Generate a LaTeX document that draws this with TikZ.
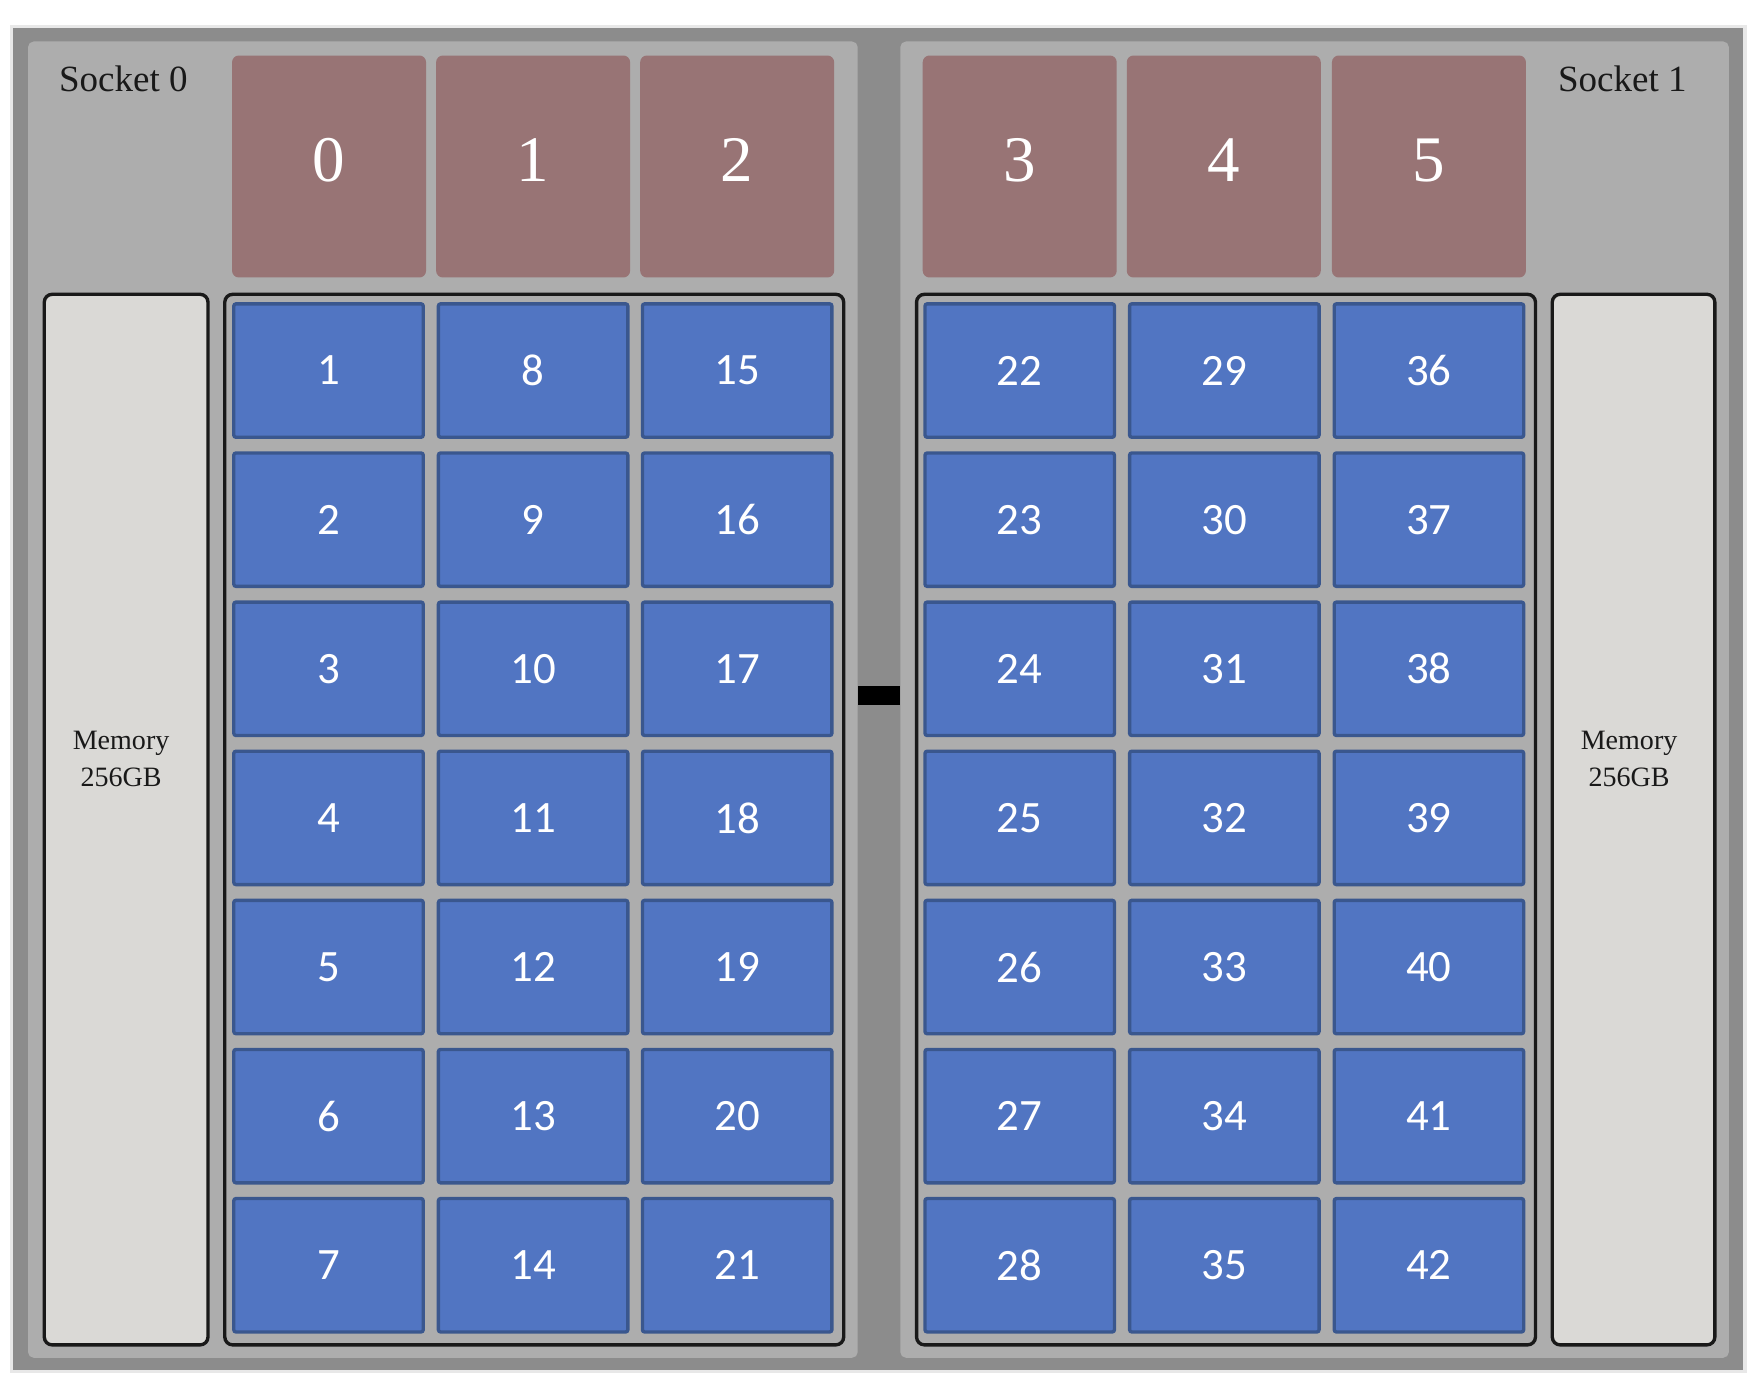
\documentclass[tikz,border=0pt]{standalone}
\usepackage{fontspec}
\setmainfont{Liberation Serif}
\newfontfamily\boxfont{Carlito}
\definecolor{framegray}{RGB}{140,140,140}
\definecolor{panelgray}{RGB}{173,173,173}
\definecolor{faintgray}{RGB}{232,232,232}
\definecolor{coremauve}{RGB}{152,116,117}
\definecolor{memfill}{RGB}{218,217,214}
\definecolor{cpublue}{RGB}{81,117,194}
\definecolor{cpuedge}{RGB}{58,87,142}
\definecolor{textblack}{RGB}{25,25,25}
\tikzset{
  panel/.style={fill=panelgray, rounded corners=5pt},
  corebox/.style={fill=coremauve, rounded corners=6pt, minimum width=173pt, minimum height=198pt, inner sep=0pt},
  corelabel/.style={text=white, inner sep=0pt, font=\fontsize{58}{58}\selectfont},
  cpubox/.style={fill=cpublue, draw=cpuedge, line width=3pt, rounded corners=2pt, minimum width=169pt, minimum height=119pt,
    inner sep=0pt, text=white, font=\boxfont\fontsize{40}{40}\selectfont},
  groupbox/.style={draw=black!90, line width=3pt, rounded corners=7pt, inner sep=0pt},
  membox/.style={groupbox, fill=memfill},
  memtext/.style={align=center, text=textblack, inner sep=0pt, font=\fontsize{25}{33}\selectfont},
  sockettext/.style={text=textblack, font=\fontsize{33}{33}\selectfont, inner sep=0pt},
}
\begin{document}
\begin{tikzpicture}[x=1pt,y=-1pt]
\useasboundingbox (0,0) rectangle (1568,1240);
\fill[white] (0,0) rectangle (1568,1240);
% outer frame
\fill[faintgray] (9,22) rectangle (1558,1225);
\fill[framegray] (12,25) rectangle (1555,1222);
% socket panels
\fill[panel] (25,37) rectangle (765,1211);
\fill[panel] (803,37) rectangle (1542,1211);
% interconnect
\node[fill=black, minimum width=38pt, minimum height=17pt, inner sep=0pt] (link) at (784,620.5) {};
% socket labels
\node[sockettext] (s0) at (110,70) {Socket 0};
\node[sockettext] (s1) at (1447,70) {Socket 1};
% cores
\foreach \n/\cx in {0/293.5, 1/475.5, 2/657.5, 3/909.5, 4/1091.5, 5/1274.5}{
  \node[corebox] (c\n) at (\cx,148.5) {};
  \node[corelabel] (cl\n) at (\cx,143) {\n};
}
% memory boxes
\node[membox, minimum width=146pt, minimum height=937pt] (m0) at (112.5,731) {};
\node[memtext] (m0t) at (108,677) {Memory\\256GB};
\node[membox, minimum width=145pt, minimum height=937pt] (m1) at (1457,731) {};
\node[memtext] (m1t) at (1453,677) {Memory\\256GB};
% group boxes
\node[groupbox, minimum width=552pt, minimum height=937pt] (g0) at (476.5,731) {};
\node[groupbox, minimum width=552pt, minimum height=937pt] (g1) at (1093.5,731) {};
% cpu boxes
\foreach \col/\cx/\base in {0/293/0, 1/475.5/7, 2/657.5/14, 3/909.5/21, 4/1092/28, 5/1274.5/35}{
  \foreach \row in {1,...,7}{
    \pgfmathtruncatemacro{\num}{\base+\row}
    \pgfmathsetmacro{\cy}{330.5+133*(\row-1)}
    \node[cpubox] (p\num) at (\cx,\cy) {\num};
  }
}
\end{tikzpicture}
\end{document}
